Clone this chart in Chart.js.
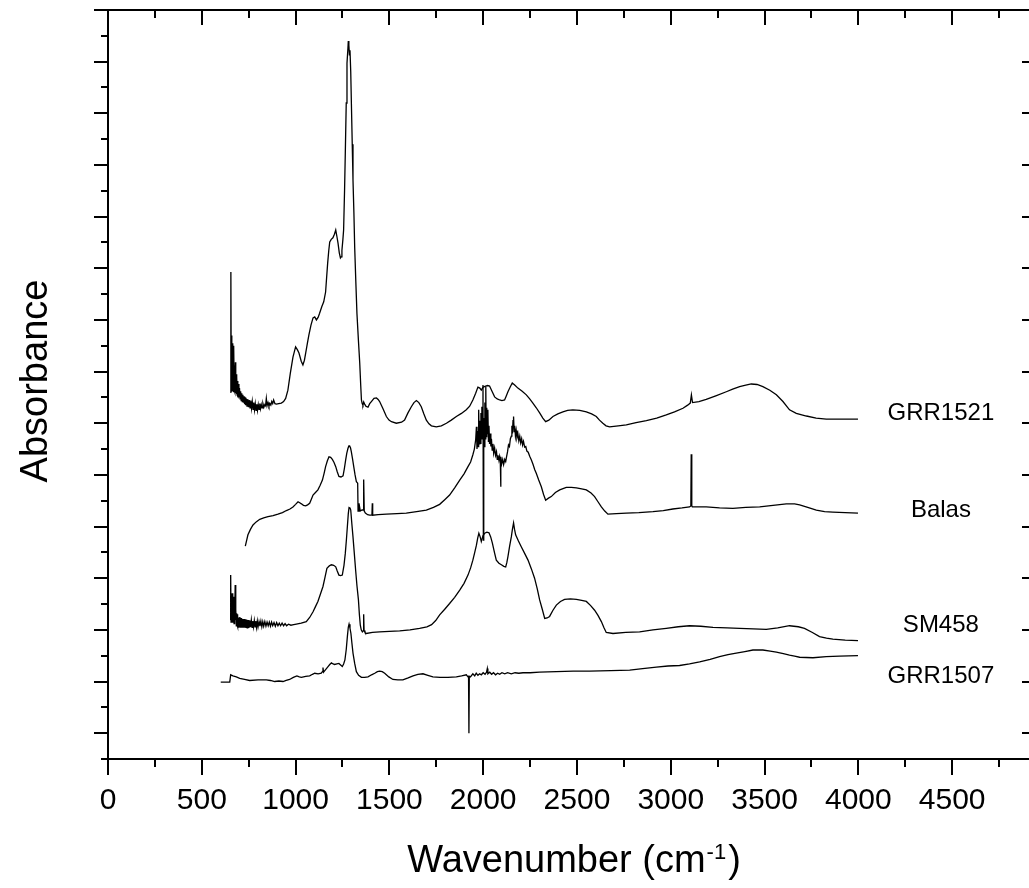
<!DOCTYPE html>
<html>
<head>
<meta charset="utf-8">
<script src="https://cdn.jsdelivr.net/npm/chart.js@4.4.1/dist/chart.umd.min.js"></script>
<style>
  html, body { margin: 0; padding: 0; background: #fff; overflow: hidden; }
  canvas { display: block; }
</style>
</head>
<body>
<canvas id="spectra" width="1040" height="888"></canvas>
<script>
// IR spectra, [wavenumber cm-1, absorbance (offset, arbitrary units)]
const GRR1521 = [
  [652, 6.60], [655, 8.93], [657, 6.62], [659, 7.70], [661, 6.66], [663, 7.55], [665, 6.62], [667, 7.35],
  [669, 6.60], [671, 7.50], [673, 6.64], [675, 7.12], [677, 6.60], [679, 7.18], [681, 6.58], [683, 6.95],
  [685, 6.56], [687, 6.90], [689, 6.54], [691, 6.82], [693, 6.52], [695, 6.76], [698, 6.50], [701, 6.68],
  [704, 6.47], [707, 6.62], [710, 6.44], [713, 6.58], [716, 6.42], [719, 6.55], [722, 6.40], [725, 6.52],
  [728, 6.37], [731, 6.50], [734, 6.35], [737, 6.48], [741, 6.33], [745, 6.47], [749, 6.31], [753, 6.45],
  [757, 6.30], [761, 6.44], [765, 6.29], [769, 6.42], [773, 6.27], [777, 6.40], [781, 6.26], [785, 6.38],
  [789, 6.25], [793, 6.37], [797, 6.25], [801, 6.36], [805, 6.27], [809, 6.38], [813, 6.28], [817, 6.36],
  [821, 6.30], [826, 6.38], [831, 6.31], [836, 6.36], [840, 6.34], [844, 6.48], [848, 6.34], [853, 6.40],
  [858, 6.33], [863, 6.38], [868, 6.35], [873, 6.42], [878, 6.38], [883, 6.45], [890, 6.38], [898, 6.37],
  [910, 6.38], [924, 6.39], [936, 6.42], [947, 6.48], [959, 6.64], [972, 6.97], [986, 7.28], [1000, 7.48],
  [1010, 7.42], [1018, 7.36], [1030, 7.20], [1039, 7.13], [1047, 7.22], [1054, 7.36], [1063, 7.55], [1071, 7.71],
  [1082, 7.90], [1093, 8.04], [1102, 8.06], [1111, 8.00], [1120, 8.05], [1128, 8.13], [1140, 8.26], [1150, 8.35],
  [1160, 8.54], [1166, 8.85], [1171, 9.10], [1177, 9.35], [1182, 9.51], [1190, 9.56], [1199, 9.59], [1207, 9.66],
  [1214, 9.74], [1220, 9.62], [1226, 9.49], [1233, 9.30], [1239, 9.20], [1243, 9.22], [1247, 9.35], [1252, 9.55],
  [1256, 9.74], [1261, 10.50], [1265, 11.23], [1270, 12.20], [1274, 12.97], [1279, 13.26], [1281, 13.40], [1284, 13.32],
  [1287, 13.13], [1290, 13.22], [1294, 12.80], [1298, 12.10], [1302, 11.40], [1306, 10.71], [1311, 10.05], [1315, 9.41],
  [1321, 8.75], [1327, 8.13], [1335, 7.60], [1342, 7.16], [1347, 6.75], [1351, 6.45], [1355, 6.38], [1359, 6.35],
  [1363, 6.41], [1368, 6.37], [1375, 6.33], [1380, 6.32], [1386, 6.31], [1395, 6.38], [1404, 6.42], [1418, 6.48],
  [1431, 6.49], [1440, 6.46], [1448, 6.42], [1466, 6.28], [1484, 6.13], [1498, 6.06], [1511, 6.03], [1537, 6.00],
  [1565, 6.02], [1581, 6.06], [1599, 6.20], [1617, 6.32], [1631, 6.40], [1644, 6.44], [1657, 6.40], [1670, 6.32],
  [1684, 6.18], [1697, 6.06], [1711, 5.99], [1724, 5.95], [1750, 5.93], [1777, 5.95], [1804, 6.00], [1830, 6.06],
  [1857, 6.13], [1884, 6.19], [1910, 6.26], [1928, 6.33], [1945, 6.45], [1960, 6.58], [1972, 6.70], [1982, 6.68],
  [1990, 6.64], [2000, 6.70], [2013, 6.72], [2024, 6.73], [2034, 6.72], [2047, 6.62], [2061, 6.51], [2075, 6.47],
  [2088, 6.45], [2100, 6.44], [2114, 6.45], [2122, 6.52], [2132, 6.61], [2144, 6.70], [2155, 6.78], [2168, 6.74],
  [2185, 6.68], [2208, 6.62], [2230, 6.55], [2248, 6.47], [2265, 6.39], [2283, 6.30], [2301, 6.20], [2318, 6.10],
  [2333, 6.03], [2350, 6.06], [2372, 6.13], [2398, 6.18], [2425, 6.22], [2450, 6.25], [2478, 6.26], [2515, 6.25],
  [2550, 6.22], [2578, 6.18], [2603, 6.13], [2620, 6.06], [2638, 6.00], [2655, 5.95], [2674, 5.93], [2720, 5.95],
  [2763, 5.97], [2815, 6.01], [2870, 6.05], [2925, 6.10], [2976, 6.16], [3020, 6.22], [3065, 6.29], [3090, 6.35],
  [3104, 6.39], [3110, 6.55], [3116, 6.40], [3150, 6.42], [3189, 6.46], [3240, 6.53], [3296, 6.61], [3330, 6.66],
  [3367, 6.71], [3400, 6.74], [3429, 6.76], [3460, 6.75], [3491, 6.71], [3528, 6.64], [3563, 6.55], [3598, 6.42],
  [3633, 6.26], [3669, 6.19], [3723, 6.14], [3775, 6.10], [3829, 6.08], [3900, 6.08], [3960, 6.08], [3998, 6.08]
];

const BALAS = [
  [732, 3.62], [746, 3.84], [760, 3.95], [773, 4.03], [790, 4.09], [809, 4.14], [830, 4.17], [853, 4.19],
  [880, 4.21], [906, 4.24], [930, 4.27], [951, 4.31], [970, 4.34], [986, 4.38], [1000, 4.43], [1013, 4.48],
  [1022, 4.46], [1031, 4.44], [1042, 4.41], [1054, 4.40], [1064, 4.42], [1075, 4.45], [1084, 4.53], [1093, 4.61],
  [1106, 4.66], [1119, 4.71], [1131, 4.80], [1143, 4.90], [1152, 5.03], [1160, 5.16], [1169, 5.27], [1178, 5.35],
  [1187, 5.34], [1196, 5.30], [1205, 5.24], [1214, 5.16], [1222, 5.06], [1231, 4.97], [1242, 4.96], [1253, 4.98],
  [1260, 5.12], [1267, 5.29], [1273, 5.42], [1279, 5.51], [1284, 5.56], [1288, 5.56], [1293, 5.52], [1297, 5.45],
  [1304, 5.30], [1310, 5.16], [1317, 5.00], [1324, 4.87], [1331, 4.84], [1333, 4.30], [1338, 4.45], [1345, 4.30],
  [1354, 4.32], [1361, 4.32], [1363, 4.91], [1366, 4.30], [1372, 4.26], [1384, 4.23], [1395, 4.22], [1407, 4.22],
  [1409, 4.45], [1411, 4.22], [1440, 4.23], [1484, 4.24], [1540, 4.25], [1590, 4.26], [1645, 4.29], [1697, 4.32],
  [1735, 4.37], [1768, 4.43], [1795, 4.52], [1821, 4.61], [1848, 4.75], [1875, 4.90], [1898, 5.02], [1919, 5.16],
  [1933, 5.25], [1945, 5.39], [1953, 5.50], [1960, 5.68], [1964, 5.93], [1967, 5.50], [1970, 5.85], [1973, 5.55],
  [1976, 6.26], [1979, 5.60], [1982, 6.05], [1985, 5.61], [1988, 6.20], [1991, 5.70], [1993, 6.32], [1996, 5.80],
  [1999, 6.74], [2001, 3.74], [2003, 6.10], [2006, 5.55], [2009, 6.40], [2012, 5.70], [2014, 6.71], [2016, 5.74],
  [2019, 6.30], [2022, 5.80], [2025, 6.26], [2028, 5.65], [2031, 5.95], [2034, 5.60], [2037, 5.80], [2041, 5.55],
  [2044, 5.70], [2048, 5.48], [2052, 5.60], [2056, 5.42], [2061, 5.52], [2066, 5.38], [2071, 5.45], [2075, 5.30],
  [2079, 5.38], [2084, 5.28], [2088, 5.36], [2091, 5.30], [2093, 4.77], [2095, 5.35], [2099, 5.22], [2104, 5.30],
  [2109, 5.20], [2115, 5.30], [2120, 5.26], [2125, 5.36], [2130, 5.45], [2135, 5.58], [2140, 5.55], [2145, 5.70],
  [2150, 5.75], [2153, 5.95], [2156, 5.80], [2159, 6.05], [2162, 6.13], [2165, 5.84], [2168, 5.95], [2172, 5.75],
  [2176, 5.86], [2180, 5.72], [2185, 5.80], [2190, 5.66], [2195, 5.75], [2200, 5.62], [2205, 5.70], [2210, 5.58],
  [2215, 5.65], [2221, 5.54], [2227, 5.55], [2233, 5.46], [2240, 5.44], [2248, 5.36], [2257, 5.29], [2266, 5.20],
  [2275, 5.10], [2283, 5.03], [2296, 4.90], [2310, 4.77], [2322, 4.62], [2333, 4.51], [2348, 4.55], [2363, 4.58],
  [2385, 4.66], [2408, 4.71], [2443, 4.76], [2470, 4.76], [2497, 4.75], [2525, 4.73], [2550, 4.71], [2575, 4.65],
  [2594, 4.58], [2612, 4.48], [2630, 4.38], [2648, 4.30], [2665, 4.24], [2710, 4.25], [2763, 4.26], [2830, 4.27],
  [2905, 4.29], [2960, 4.31], [3011, 4.34], [3060, 4.36], [3100, 4.38], [3107, 4.40], [3109, 5.40], [3112, 4.40],
  [3115, 4.38], [3150, 4.38], [3189, 4.38], [3260, 4.36], [3331, 4.35], [3400, 4.37], [3474, 4.38], [3545, 4.41],
  [3616, 4.44], [3660, 4.44], [3687, 4.42], [3730, 4.37], [3776, 4.32], [3820, 4.29], [3864, 4.28], [3930, 4.27],
  [3998, 4.26]
];

const SM458 = [
  [652, 2.19], [654, 3.06], [656, 2.15], [658, 2.60], [660, 2.18], [662, 2.71], [664, 2.14], [666, 2.55],
  [668, 2.16], [670, 2.64], [672, 2.12], [674, 2.50], [676, 2.15], [678, 2.87], [680, 2.19], [682, 2.40],
  [684, 2.08], [686, 2.32], [688, 2.10], [690, 2.30], [692, 2.06], [694, 2.24], [696, 2.04], [698, 2.22],
  [700, 2.06], [703, 2.25], [706, 2.04], [709, 2.23], [712, 2.04], [715, 2.21], [718, 2.04], [721, 2.21],
  [724, 2.04], [727, 2.21], [730, 2.04], [733, 2.20], [736, 2.05], [739, 2.20], [742, 2.04], [745, 2.19],
  [748, 2.05], [751, 2.19], [754, 2.05], [757, 2.18], [760, 2.05], [764, 2.19], [768, 2.05], [772, 2.17],
  [776, 2.06], [780, 2.18], [784, 2.06], [788, 2.17], [792, 2.05], [796, 2.17], [800, 2.06], [805, 2.16],
  [810, 2.07], [815, 2.17], [820, 2.06], [825, 2.16], [830, 2.07], [836, 2.16], [842, 2.07], [848, 2.15],
  [854, 2.08], [860, 2.15], [866, 2.07], [872, 2.15], [878, 2.08], [885, 2.14], [892, 2.07], [899, 2.14],
  [906, 2.08], [913, 2.13], [920, 2.08], [928, 2.13], [936, 2.08], [944, 2.12], [952, 2.08], [962, 2.11],
  [975, 2.09], [990, 2.10], [1004, 2.11], [1030, 2.13], [1057, 2.16], [1075, 2.24], [1093, 2.35], [1106, 2.45],
  [1119, 2.55], [1133, 2.70], [1146, 2.84], [1157, 3.02], [1167, 3.19], [1180, 3.24], [1191, 3.26], [1203, 3.25],
  [1214, 3.22], [1222, 3.14], [1231, 3.06], [1240, 3.05], [1249, 3.06], [1258, 3.25], [1265, 3.48], [1271, 3.75],
  [1276, 4.00], [1281, 4.25], [1285, 4.37], [1290, 4.36], [1294, 4.32], [1300, 4.05], [1306, 3.80], [1313, 3.48],
  [1320, 3.16], [1327, 2.86], [1335, 2.58], [1340, 2.30], [1345, 2.09], [1350, 2.00], [1356, 1.96], [1361, 1.98],
  [1363, 2.30], [1365, 1.99], [1370, 1.95], [1377, 1.93], [1410, 1.95], [1448, 1.96], [1500, 1.97], [1555, 1.98],
  [1610, 2.00], [1661, 2.03], [1700, 2.06], [1725, 2.10], [1747, 2.18], [1768, 2.29], [1795, 2.40], [1821, 2.51],
  [1848, 2.63], [1875, 2.77], [1898, 2.90], [1919, 3.06], [1933, 3.20], [1945, 3.35], [1955, 3.50], [1964, 3.64],
  [1971, 3.78], [1977, 3.87], [1984, 3.80], [1990, 3.71], [1999, 3.82], [2008, 3.87], [2020, 3.89], [2031, 3.88],
  [2040, 3.80], [2049, 3.68], [2060, 3.50], [2070, 3.35], [2084, 3.29], [2097, 3.26], [2110, 3.23], [2120, 3.22],
  [2126, 3.30], [2132, 3.42], [2141, 3.62], [2150, 3.80], [2156, 3.95], [2162, 4.07], [2167, 3.95], [2173, 3.84],
  [2188, 3.72], [2203, 3.61], [2221, 3.48], [2239, 3.35], [2257, 3.18], [2274, 3.00], [2288, 2.80], [2301, 2.58],
  [2315, 2.40], [2328, 2.22], [2341, 2.23], [2354, 2.26], [2372, 2.38], [2390, 2.48], [2412, 2.55], [2434, 2.59],
  [2465, 2.60], [2497, 2.59], [2525, 2.57], [2550, 2.55], [2573, 2.47], [2594, 2.38], [2612, 2.28], [2630, 2.16],
  [2644, 2.04], [2656, 1.95], [2692, 1.93], [2760, 1.95], [2834, 1.96], [2905, 2.00], [2976, 2.03], [3040, 2.06],
  [3100, 2.08], [3160, 2.07], [3225, 2.05], [3300, 2.04], [3367, 2.03], [3440, 2.02], [3509, 2.01], [3570, 2.04],
  [3633, 2.08], [3680, 2.06], [3713, 2.03], [3755, 1.95], [3793, 1.87], [3830, 1.84], [3864, 1.82], [3930, 1.80],
  [3998, 1.79]
];

const GRR1507 = [
  [601, 0.99], [649, 0.99], [654, 1.13], [666, 1.11], [684, 1.09], [702, 1.06], [728, 1.04], [755, 1.02],
  [800, 1.03], [844, 1.03], [866, 1.02], [889, 1.00], [911, 1.01], [933, 1.00], [950, 1.02], [968, 1.04],
  [988, 1.08], [1007, 1.11], [1020, 1.09], [1031, 1.08], [1054, 1.10], [1075, 1.11], [1090, 1.14], [1102, 1.16],
  [1120, 1.15], [1137, 1.16], [1143, 1.19], [1146, 1.27], [1149, 1.18], [1160, 1.23], [1173, 1.29], [1182, 1.33],
  [1191, 1.36], [1200, 1.34], [1208, 1.33], [1220, 1.34], [1231, 1.35], [1240, 1.32], [1249, 1.29], [1256, 1.34],
  [1263, 1.42], [1270, 1.62], [1276, 1.87], [1281, 2.05], [1285, 2.11], [1290, 2.03], [1295, 1.93], [1300, 1.75],
  [1306, 1.55], [1315, 1.35], [1324, 1.19], [1336, 1.12], [1351, 1.08], [1368, 1.08], [1386, 1.09], [1405, 1.13],
  [1422, 1.16], [1436, 1.19], [1448, 1.20], [1462, 1.19], [1475, 1.16], [1497, 1.09], [1519, 1.04], [1545, 1.03],
  [1572, 1.03], [1600, 1.07], [1626, 1.11], [1652, 1.14], [1679, 1.15], [1705, 1.12], [1732, 1.09], [1770, 1.08],
  [1812, 1.08], [1857, 1.09], [1885, 1.11], [1910, 1.13], [1919, 1.09], [1922, 1.10], [1924, 0.00], [1926, 1.10],
  [1932, 1.09], [1945, 1.15], [1955, 1.11], [1963, 1.16], [1972, 1.12], [1981, 1.15], [1990, 1.13], [2000, 1.17],
  [2010, 1.14], [2018, 1.18], [2022, 1.25], [2025, 1.15], [2035, 1.18], [2045, 1.14], [2055, 1.17], [2066, 1.13],
  [2077, 1.16], [2088, 1.14], [2100, 1.17], [2115, 1.15], [2130, 1.17], [2150, 1.15], [2170, 1.17], [2190, 1.16],
  [2212, 1.17], [2250, 1.17], [2300, 1.18], [2390, 1.19], [2480, 1.20], [2567, 1.20], [2680, 1.21], [2781, 1.22],
  [2850, 1.25], [2923, 1.28], [2985, 1.30], [3047, 1.31], [3100, 1.34], [3154, 1.38], [3210, 1.43], [3260, 1.48],
  [3305, 1.52], [3349, 1.55], [3395, 1.58], [3438, 1.61], [3491, 1.61], [3530, 1.59], [3563, 1.57], [3600, 1.54],
  [3633, 1.51], [3660, 1.49], [3687, 1.47], [3758, 1.46], [3829, 1.48], [3900, 1.49], [3998, 1.50]
];

const SERIES = [GRR1521, BALAS, SM458, GRR1507];
const SERIES_NAMES = ['GRR1521', 'Balas', 'SM458', 'GRR1507'];
// absorbance level where each sample name sits, next to its trace
const LABEL_LEVELS = [6.06, 4.19, 1.96, 0.97];
const LABEL_WAVENUMBER = 4440;

const X_MIN = 0;
const X_MAX = 4915;
const X_STEP = 500;
const X_TICKS = [0, 500, 1000, 1500, 2000, 2500, 3000, 3500, 4000, 4500];
const Y_MIN = -0.5;
const Y_MAX = 14;

const FONT = "'Liberation Sans', Arial, Helvetica, sans-serif";

// frame, tick marks, tick labels, titles and sample names
const frame = {
  id: 'frame',
  afterDraw(chart) {
    const { ctx, chartArea: a, scales: { x, y } } = chart;
    ctx.save();
    ctx.strokeStyle = '#000';
    ctx.fillStyle = '#000';
    ctx.lineWidth = 2;

    ctx.beginPath();
    ctx.rect(a.left, a.top, a.right - a.left, a.bottom - a.top);
    ctx.stroke();

    ctx.beginPath();
    for (let v = X_MIN; v < X_MAX; v += X_STEP / 2) {
      const px = Math.round(x.getPixelForValue(v));
      const major = v % X_STEP === 0;
      ctx.moveTo(px, a.bottom);
      ctx.lineTo(px, a.bottom + (major ? 16 : 8));
      ctx.moveTo(px, a.top);
      ctx.lineTo(px, a.top + (major ? 15 : 8));
    }
    for (let v = Y_MIN; v <= Y_MAX; v += 0.5) {
      const py = Math.round(y.getPixelForValue(v));
      const major = Number.isInteger(v);
      ctx.moveTo(a.left - (major ? 14 : 7), py);
      ctx.lineTo(a.left, py);
      if (major) {
        ctx.moveTo(a.right - 8, py);
        ctx.lineTo(a.right, py);
      }
    }
    ctx.stroke();

    ctx.font = '30px ' + FONT;
    ctx.textAlign = 'center';
    ctx.textBaseline = 'alphabetic';
    X_TICKS.forEach((v) => {
      ctx.fillText(String(v), x.getPixelForValue(v), a.bottom + 50);
    });

    // x title with superscript exponent
    const main = 'Wavenumber (cm';
    const sup = '-1';
    const close = ')';
    ctx.font = '38px ' + FONT;
    const w1 = ctx.measureText(main).width;
    const w3 = ctx.measureText(close).width;
    ctx.font = '22px ' + FONT;
    const w2 = ctx.measureText(sup).width;
    let tx = 574 - (w1 + w2 + w3 + 3) / 2;
    const ty = a.bottom + 113;
    ctx.textAlign = 'left';
    ctx.font = '38px ' + FONT;
    ctx.fillText(main, tx, ty);
    tx += w1;
    ctx.font = '22px ' + FONT;
    ctx.fillText(sup, tx + 1, ty - 13);
    tx += w2 + 3;
    ctx.font = '38px ' + FONT;
    ctx.fillText(close, tx, ty);

    ctx.save();
    ctx.translate(47, 381);
    ctx.rotate(-Math.PI / 2);
    ctx.textAlign = 'center';
    ctx.font = '38px ' + FONT;
    ctx.fillText('Absorbance', 0, 0);
    ctx.restore();

    ctx.font = '24px ' + FONT;
    ctx.textAlign = 'center';
    SERIES_NAMES.forEach((name, i) => {
      ctx.fillText(name, x.getPixelForValue(LABEL_WAVENUMBER), y.getPixelForValue(LABEL_LEVELS[i]));
    });
    ctx.restore();
  }
};

new Chart(document.getElementById('spectra'), {
  type: 'line',
  data: {
    datasets: SERIES.map((points, i) => ({
      label: SERIES_NAMES[i],
      data: points.map(([wn, abs]) => ({ x: wn, y: abs })),
      borderColor: '#000',
      borderWidth: 1.3,
      pointRadius: 0,
      tension: 0,
      fill: false
    }))
  },
  options: {
    responsive: false,
    animation: false,
    devicePixelRatio: 1,
    layout: { padding: { left: 108, right: 10, top: 10, bottom: 129 } },
    plugins: {
      legend: { display: false },
      tooltip: { enabled: false }
    },
    scales: {
      x: { type: 'linear', min: X_MIN, max: X_MAX, display: false },
      y: { type: 'linear', min: Y_MIN, max: Y_MAX, display: false }
    }
  },
  plugins: [frame]
});
</script>
</body>
</html>
